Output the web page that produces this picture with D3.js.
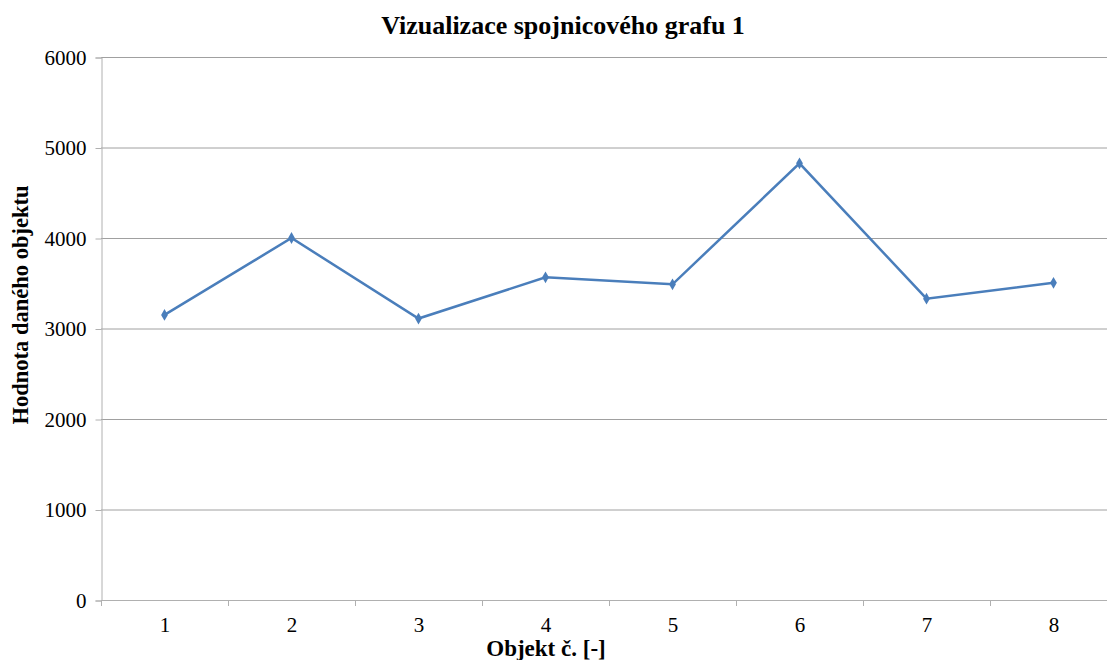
<!DOCTYPE html>
<html>
<head>
<meta charset="utf-8">
<script src="https://cdn.jsdelivr.net/npm/d3@7"></script>
<style>
  body { margin: 0; background: #fff; }
</style>
</head>
<body>
<svg id="chart" width="1107" height="660"></svg>
<script>
const categories = ['1', '2', '3', '4', '5', '6', '7', '8'];
const values = [3150, 4000, 3110, 3565, 3488, 4825, 3330, 3505];
const yTicks = [0, 1000, 2000, 3000, 4000, 5000, 6000];

const title = 'Vizualizace spojnicového grafu 1';
const xTitle = 'Objekt č. [-]';
const yTitle = 'Hodnota daného objektu';

const serif = "'Times New Roman', 'Liberation Serif', 'DejaVu Serif', serif";
const margin = { top: 57, left: 101, bottom: 60 };
const plotRight = 1117;
const height = 660;

const svg = d3.select('#chart');

const x = d3.scaleBand()
  .domain(categories)
  .range([margin.left, plotRight]);

const y = d3.scaleLinear()
  .domain([0, 6000])
  .range([height - margin.bottom, margin.top]);

// gridlines
svg.append('g')
  .selectAll('line')
  .data(yTicks.filter(d => d > 0))
  .join('line')
  .attr('x1', margin.left)
  .attr('x2', plotRight)
  .attr('y1', d => y(d) + 0.5)
  .attr('y2', d => y(d) + 0.5)
  .attr('stroke', '#a0a0a0')
  .attr('stroke-width', 1);

// y axis
const yAxis = svg.append('g')
  .attr('transform', `translate(${margin.left + 0.5},0.5)`)
  .call(d3.axisLeft(y).tickValues(yTicks).tickSize(6).tickPadding(9).tickFormat(d3.format('d')))
  .attr('font-family', serif)
  .attr('font-size', 21);
yAxis.select('.domain').attr('stroke', '#b0b0b0');
yAxis.selectAll('.tick line').attr('stroke', '#b0b0b0');
yAxis.selectAll('text').attr('fill', '#000');

// x axis
const xAxis = svg.append('g')
  .attr('transform', `translate(0.5,${y(0) + 0.5})`)
  .call(d3.axisBottom(x).tickSize(0).tickPadding(17))
  .attr('font-family', serif)
  .attr('font-size', 21);
xAxis.select('.domain').attr('stroke', '#b0b0b0').attr('d', `M${margin.left},0H${plotRight}`);
xAxis.selectAll('text').attr('fill', '#000');

// category separators
svg.append('g')
  .selectAll('line')
  .data(categories)
  .join('line')
  .attr('x1', d => x(d) + 0.5)
  .attr('x2', d => x(d) + 0.5)
  .attr('y1', y(0))
  .attr('y2', y(0) + 6)
  .attr('stroke', '#b0b0b0');

// series line
const line = d3.line()
  .x((d, i) => x(categories[i]) + x.bandwidth() / 2)
  .y(d => y(d));

svg.append('path')
  .datum(values)
  .attr('fill', 'none')
  .attr('stroke', '#4a7ebb')
  .attr('stroke-width', 2.5)
  .attr('d', line);

// diamond markers
svg.append('g')
  .selectAll('path')
  .data(values)
  .join('path')
  .attr('transform', (d, i) => `translate(${x(categories[i]) + x.bandwidth() / 2},${y(d)})`)
  .attr('d', d3.symbol(d3.symbolDiamond, 40))
  .attr('fill', '#4a7ebb');

// titles
svg.append('text')
  .attr('x', 563)
  .attr('y', 34)
  .attr('text-anchor', 'middle')
  .attr('font-family', serif)
  .attr('font-size', 26)
  .attr('font-weight', 'bold')
  .text(title);

svg.append('text')
  .attr('x', 546)
  .attr('y', 656)
  .attr('text-anchor', 'middle')
  .attr('font-family', serif)
  .attr('font-size', 23)
  .attr('font-weight', 'bold')
  .text(xTitle);

svg.append('text')
  .attr('transform', 'translate(28,305) rotate(-90)')
  .attr('text-anchor', 'middle')
  .attr('font-family', serif)
  .attr('font-size', 22.5)
  .attr('font-weight', 'bold')
  .text(yTitle);
</script>
</body>
</html>
